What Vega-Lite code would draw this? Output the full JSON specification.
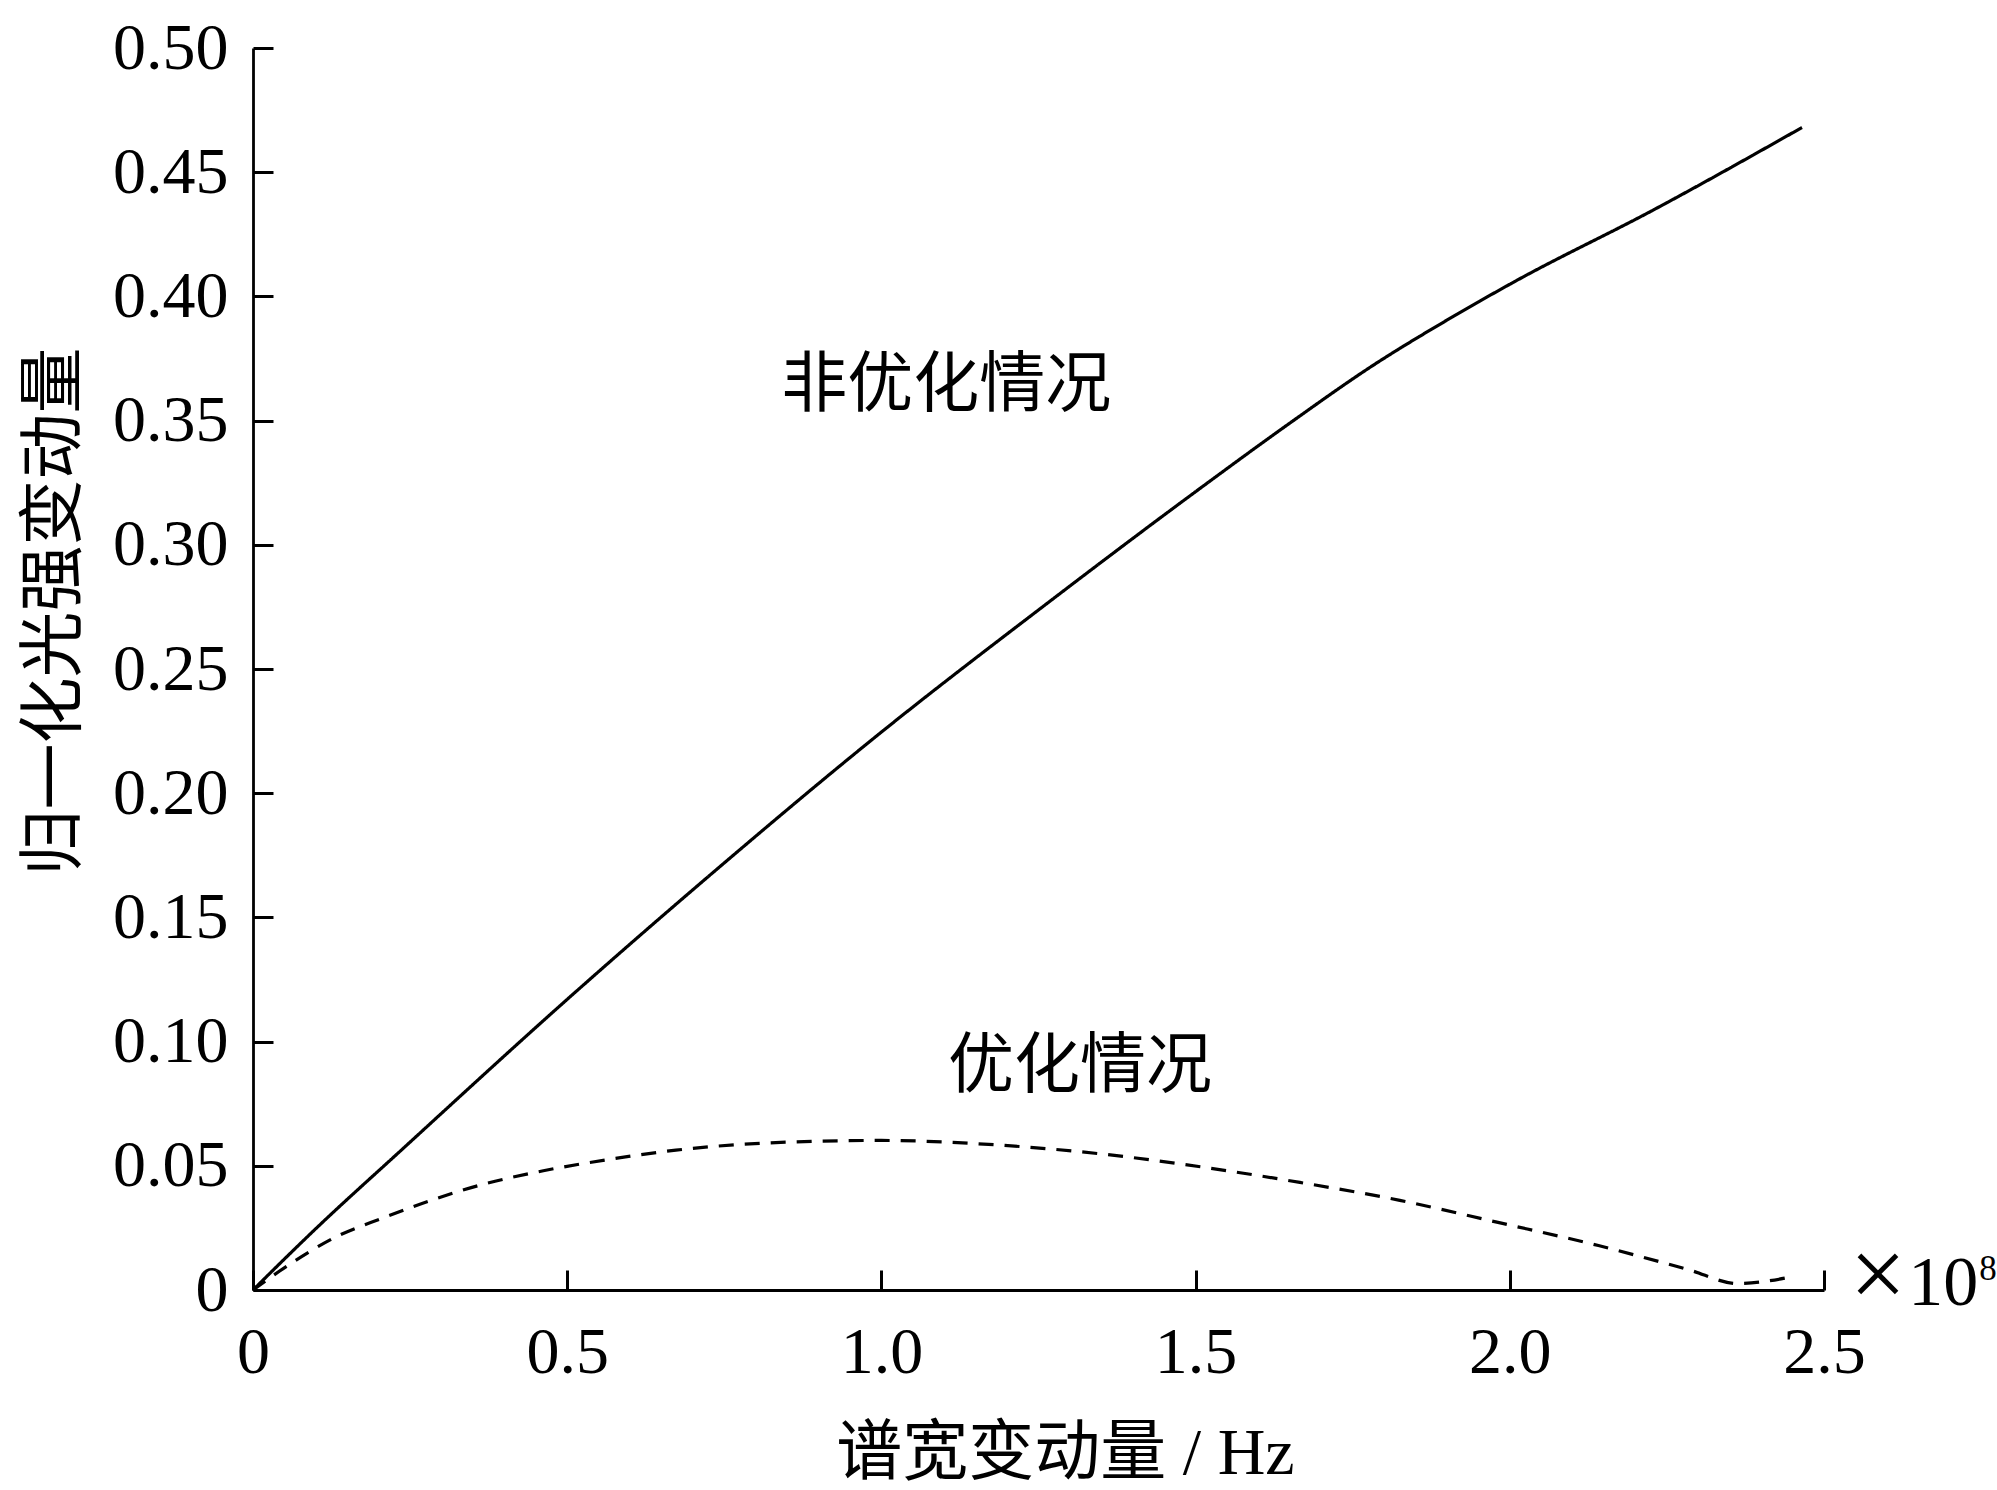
{
  "$schema": "https://vega.github.io/schema/vega-lite/v6.json",
  "autosize": "none",
  "width": 1571,
  "height": 1242,
  "padding": {"left": 253, "top": 48, "right": 173, "bottom": 200},
  "background": "white",
  "config": {
    "view": {"stroke": null},
    "axis": {
      "domainColor": "black",
      "domainWidth": 2.8,
      "tickColor": "black",
      "tickWidth": 3,
      "tickSize": -20,
      "grid": false,
      "labelFont": "Liberation Serif",
      "labelFontSize": 66,
      "labelColor": "black",
      "labelFlush": false,
      "labelOverlap": false,
      "titleFont": "Liberation Serif, Noto Sans CJK SC",
      "titleFontSize": 66,
      "titleFontWeight": "normal",
      "titleColor": "black"
    }
  },
  "datasets": {
    "curves": [
      {"x": 0, "y": 0, "series": "非优化情况"},
      {"x": 0.1, "y": 0.0247, "series": "非优化情况"},
      {"x": 0.239, "y": 0.057, "series": "非优化情况"},
      {"x": 0.5, "y": 0.117, "series": "非优化情况"},
      {"x": 0.741, "y": 0.17, "series": "非优化情况"},
      {"x": 1.0, "y": 0.2246, "series": "非优化情况"},
      {"x": 1.26, "y": 0.2757, "series": "非优化情况"},
      {"x": 1.514, "y": 0.324, "series": "非优化情况"},
      {"x": 1.65, "y": 0.349, "series": "非优化情况"},
      {"x": 1.787, "y": 0.373, "series": "非优化情况"},
      {"x": 1.897, "y": 0.39, "series": "非优化情况"},
      {"x": 2.008, "y": 0.406, "series": "非优化情况"},
      {"x": 2.23, "y": 0.435, "series": "非优化情况"},
      {"x": 2.465, "y": 0.468, "series": "非优化情况"},
      {"x": 0, "y": 0, "series": "优化情况"},
      {"x": 0.064, "y": 0.0113, "series": "优化情况"},
      {"x": 0.133, "y": 0.0215, "series": "优化情况"},
      {"x": 0.207, "y": 0.029, "series": "优化情况"},
      {"x": 0.282, "y": 0.036, "series": "优化情况"},
      {"x": 0.367, "y": 0.0426, "series": "优化情况"},
      {"x": 0.462, "y": 0.048, "series": "优化情况"},
      {"x": 0.57, "y": 0.0527, "series": "优化情况"},
      {"x": 0.673, "y": 0.0563, "series": "优化情况"},
      {"x": 0.819, "y": 0.0592, "series": "优化情况"},
      {"x": 1.0, "y": 0.0602, "series": "优化情况"},
      {"x": 1.184, "y": 0.0584, "series": "优化情况"},
      {"x": 1.349, "y": 0.0548, "series": "优化情况"},
      {"x": 1.508, "y": 0.0496, "series": "优化情况"},
      {"x": 1.666, "y": 0.0433, "series": "优化情况"},
      {"x": 1.825, "y": 0.0361, "series": "优化情况"},
      {"x": 1.983, "y": 0.0271, "series": "优化情况"},
      {"x": 2.141, "y": 0.0179, "series": "优化情况"},
      {"x": 2.284, "y": 0.0082, "series": "优化情况"},
      {"x": 2.363, "y": 0.0026, "series": "优化情况"},
      {"x": 2.445, "y": 0.0051, "series": "优化情况"}
    ],
    "notes": [
      {"x": 1.103, "y": 0.364, "text": "非优化情况"},
      {"x": 1.316, "y": 0.0897, "text": "优化情况"}
    ]
  },
  "layer": [
    {
      "data": {"name": "curves"},
      "mark": {"type": "line", "color": "black", "strokeWidth": 3.2, "interpolate": "monotone", "clip": false},
      "encoding": {
        "x": {
          "field": "x", "type": "quantitative",
          "title": "谱宽变动量 / Hz",
          "scale": {"domain": [0, 2.5], "nice": false, "zero": false},
          "axis": {
            "values": [0, 0.5, 1, 1.5, 2, 2.5],
            "labelExpr": "datum.value === 0 ? '0' : format(datum.value, '.1f')",
            "labelPadding": 50,
            "titlePadding": 36,
            "titleX": 812
          }
        },
        "y": {
          "field": "y", "type": "quantitative",
          "title": "归一化光强变动量",
          "scale": {"domain": [0, 0.5], "nice": false, "zero": false},
          "axis": {
            "values": [0, 0.05, 0.1, 0.15, 0.2, 0.25, 0.3, 0.35, 0.4, 0.45, 0.5],
            "labelExpr": "datum.value === 0 ? '0' : format(datum.value, '.2f')",
            "labelPadding": 45,
            "titlePadding": 24,
            "titleY": 563
          }
        },
        "detail": {"field": "series"},
        "strokeDash": {
          "field": "series", "type": "nominal",
          "scale": {"domain": ["非优化情况", "优化情况"], "range": [[1, 0], [15, 11]]},
          "legend": null
        }
      }
    },
    {
      "data": {"name": "notes"},
      "mark": {"type": "text", "font": "Noto Sans CJK SC", "fontSize": 66, "color": "black", "align": "center", "baseline": "middle"},
      "encoding": {
        "x": {"field": "x", "type": "quantitative"},
        "y": {"field": "y", "type": "quantitative"},
        "text": {"field": "text"}
      }
    },
    {
      "data": {"values": [{"x": 2.541, "y": -0.0068, "text": "×"}]},
      "mark": {"type": "text", "font": "Liberation Serif", "fontSize": 100, "color": "black", "align": "left", "baseline": "alphabetic", "clip": false},
      "encoding": {
        "x": {"field": "x", "type": "quantitative"},
        "y": {"field": "y", "type": "quantitative"},
        "text": {"field": "text"}
      }
    },
    {
      "data": {"values": [{"x": 2.634, "y": -0.006, "text": "10"}]},
      "mark": {"type": "text", "font": "Liberation Serif", "fontSize": 70, "color": "black", "align": "left", "baseline": "alphabetic", "clip": false},
      "encoding": {
        "x": {"field": "x", "type": "quantitative"},
        "y": {"field": "y", "type": "quantitative"},
        "text": {"field": "text"}
      }
    },
    {
      "data": {"values": [{"x": 2.747, "y": 0.004, "text": "8"}]},
      "mark": {"type": "text", "font": "Liberation Serif", "fontSize": 35, "color": "black", "align": "left", "baseline": "alphabetic", "clip": false},
      "encoding": {
        "x": {"field": "x", "type": "quantitative"},
        "y": {"field": "y", "type": "quantitative"},
        "text": {"field": "text"}
      }
    }
  ]
}
